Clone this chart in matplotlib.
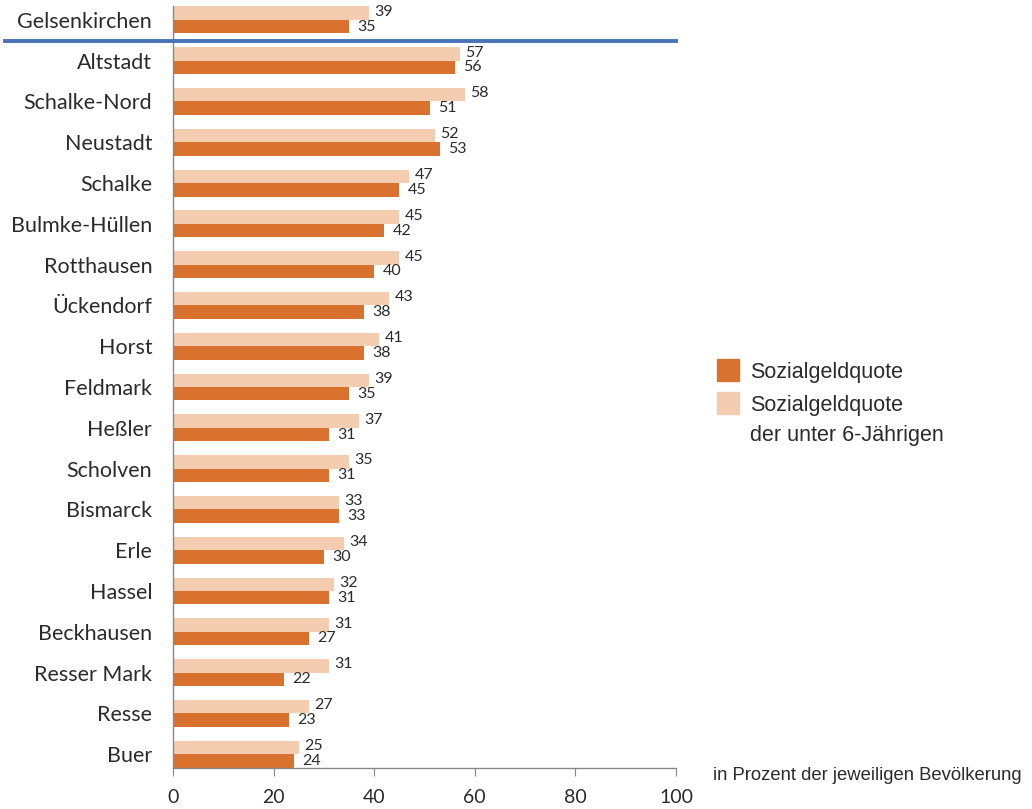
import numpy as np
import matplotlib.pyplot as plt
from matplotlib.lines import Line2D
from matplotlib.patches import Rectangle

# Stadtteile und Quoten (in Prozent)
stadtteile = ["Gelsenkirchen", "Altstadt", "Schalke-Nord", "Neustadt", "Schalke",
              "Bulmke-Hüllen", "Rotthausen", "Ückendorf", "Horst", "Feldmark",
              "Heßler", "Scholven", "Bismarck", "Erle", "Hassel", "Beckhausen",
              "Resser Mark", "Resse", "Buer"]
quote_u6 = [39, 57, 58, 52, 47, 45, 45, 43, 41, 39, 37, 35, 33, 34, 32, 31, 31, 27, 25]
quote = [35, 56, 51, 53, 45, 42, 40, 38, 38, 35, 31, 31, 33, 30, 31, 27, 22, 23, 24]

dunkel = "#d8722e"
hell = "#f4cdb0"
textfarbe = "#2b2b2b"
label_font = "Lato"

fig = plt.figure(figsize=(10.32, 8.09), dpi=100)
ax = fig.add_axes([173 / 1032, 1 - 768 / 809, (676 - 173) / 1032, (768 - 6) / 809])

y = np.arange(len(stadtteile))
h = 0.33
ax.barh(y - 0.165, quote_u6, height=h, color=hell)
ax.barh(y + 0.165, quote, height=h, color=dunkel)

for yi, v in zip(y, quote_u6):
    ax.annotate(str(v), (v, yi - 0.165), xytext=(4, 1), textcoords="offset points",
                va="center", ha="left", fontsize=11.5, color=textfarbe, family=label_font)
for yi, v in zip(y, quote):
    ax.annotate(str(v), (v, yi + 0.165), xytext=(6, 0), textcoords="offset points",
                va="center", ha="left", fontsize=11.5, color=textfarbe, family=label_font)

ax.set_xlim(0, 100)
ax.set_ylim(18.34, -0.34)
ax.set_yticks(y)
ax.set_yticklabels(stadtteile, fontsize=15.5, color=textfarbe, family=label_font)
ax.tick_params(axis="y", length=0, pad=15)
ax.set_xticks(np.arange(0, 101, 20))
ax.tick_params(axis="x", length=6, color="#888888", labelsize=14, labelcolor=textfarbe, pad=9)
for lbl in ax.get_xticklabels():
    lbl.set_family(label_font)

for s in ["top", "right"]:
    ax.spines[s].set_visible(False)
for s in ["left", "bottom"]:
    ax.spines[s].set_color("#888888")
    ax.spines[s].set_linewidth(1)

# Trennlinie unter Gesamtstadt
fig.add_artist(Line2D([5 / 1032, 676 / 1032], [1 - 41 / 809, 1 - 41 / 809],
                      color="#4a72b8", lw=2.8))

# Legende
fig.add_artist(Rectangle((717 / 1032, 1 - 381 / 809), 22 / 1032, 22 / 809, color=dunkel))
fig.add_artist(Rectangle((717 / 1032, 1 - 414 / 809), 22 / 1032, 22 / 809, color=hell))
fig.text(750 / 1032, 1 - 373 / 809, "Sozialgeldquote", fontsize=15.5, va="center",
         family="Liberation Sans", color=textfarbe)
fig.text(750 / 1032, 1 - 406 / 809, "Sozialgeldquote", fontsize=15.5, va="center",
         family="Liberation Sans", color=textfarbe)
fig.text(750 / 1032, 1 - 436 / 809, "der unter 6-Jährigen", fontsize=15.5, va="center",
         family="Liberation Sans", color=textfarbe)

fig.text(713 / 1032, 1 - 776 / 809, "in Prozent der jeweiligen Bevölkerung", fontsize=13.3,
         va="center", family="Liberation Sans", color=textfarbe)

fig.savefig("out.png", dpi=100)
